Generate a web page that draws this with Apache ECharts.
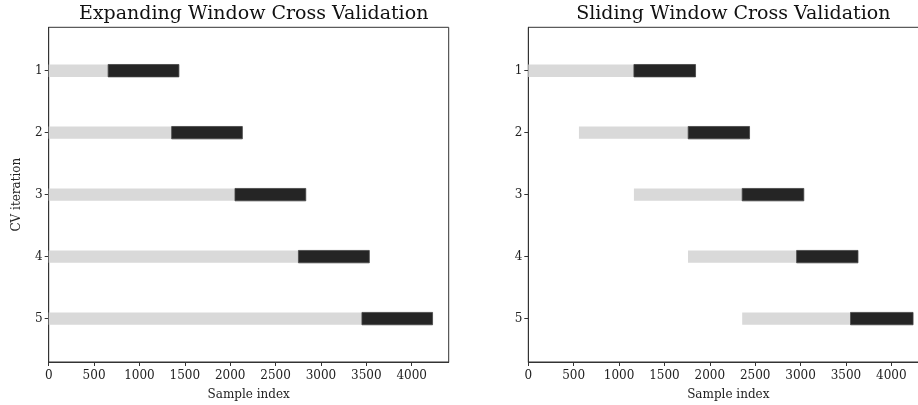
<!DOCTYPE html>
<html>
<head>
<meta charset="utf-8">
<script src="https://cdn.jsdelivr.net/npm/echarts@6/dist/echarts.min.js"></script>
<style>
html,body{margin:0;padding:0;background:#fff;}
#c{width:918px;height:405px;}
</style>
</head>
<body>
<div id="c"></div>
<script>
// ---- data ----
const iterations = [1, 2, 3, 4, 5];
const xTicks = [0, 500, 1000, 1500, 2000, 2500, 3000, 3500, 4000];
// Expanding window
const expTrainStart = [0, 0, 0, 0, 0];
const expTrainEnd = [655, 1355, 2053, 2752, 3452];
const expTestEnd = [1435, 2134, 2833, 3533, 4230];
// Sliding window
const slTrainStart = [0, 558, 1164, 1760, 2357];
const slTrainEnd = [1164, 1762, 2357, 2957, 3551];
const slTestEnd = [1843, 2438, 3036, 3633, 4240];

const FONT = 'DejaVu Serif';
const TRAIN_COLOR = '#d9d9d9';
const TEST_COLOR = '#252525';

function segs(starts, ends) {
  return iterations.map((it, i) => [starts[i], ends[i], it]);
}

function renderBar(params, api) {
  const s = api.coord([api.value(0), api.value(2)]);
  const e = api.coord([api.value(1), api.value(2)]);
  const h = api.size([0, 0.2])[1];
  const rect = echarts.graphic.clipRectByRect(
    { x: s[0], y: s[1] - h / 2, width: e[0] - s[0], height: h },
    { x: params.coordSys.x, y: params.coordSys.y, width: params.coordSys.width, height: params.coordSys.height }
  );
  return rect && { type: 'rect', shape: rect, style: api.style() };
}

function barSeries(idx, data, color, edge) {
  return {
    type: 'custom', xAxisIndex: idx, yAxisIndex: idx,
    renderItem: renderBar, data: data,
    encode: { x: [0, 1], y: 2 },
    itemStyle: { color: color, borderColor: edge, borderWidth: edge ? 0.8 : 0 },
    silent: true, clip: false
  };
}

const tickStyle = { color: '#333', width: 1 };
function xAx(idx) {
  return {
    type: 'value', gridIndex: idx, min: 0, max: 4408,
    name: 'Sample index', nameLocation: 'middle', nameGap: 27,
    nameTextStyle: { fontFamily: FONT, fontSize: 12, color: '#222' },
    axisLine: { show: true, lineStyle: tickStyle },
    axisTick: { show: true, length: 4, lineStyle: tickStyle, customValues: xTicks },
    axisLabel: { fontFamily: FONT, fontSize: 12, color: '#222', margin: 8, customValues: xTicks,
      formatter: v => String(v) },
    splitLine: { show: false }
  };
}
function yAx(idx, withName) {
  return {
    type: 'value', gridIndex: idx, min: 0.3, max: 5.7, inverse: true,
    name: withName ? 'CV iteration' : '', nameLocation: 'middle', nameGap: 26,
    nameRotate: 90,
    nameTextStyle: { fontFamily: FONT, fontSize: 12, color: '#222' },
    axisLine: { show: true, lineStyle: tickStyle },
    axisTick: { show: true, length: 4, lineStyle: tickStyle, customValues: iterations },
    axisLabel: { fontFamily: FONT, fontSize: 12, color: '#222', margin: 6, customValues: iterations,
      formatter: v => String(v) },
    splitLine: { show: false }
  };
}

const chart = echarts.init(document.getElementById('c'), null, { renderer: 'canvas' });
chart.setOption({
  animation: false,
  backgroundColor: '#fff',
  title: [
    { text: 'Expanding Window Cross Validation', left: 248.7, top: 0, textAlign: 'center',
      textStyle: { fontFamily: FONT, fontSize: 19, fontWeight: 'normal', color: '#111' } },
    { text: 'Sliding Window Cross Validation', left: 728.3, top: 0, textAlign: 'center',
      textStyle: { fontFamily: FONT, fontSize: 19, fontWeight: 'normal', color: '#111' } }
  ],
  grid: [
    { left: 48.7, top: 27.3, width: 400, height: 334.7, show: true, borderColor: '#333', borderWidth: 1,
      backgroundColor: 'transparent', containLabel: false, outerBoundsMode: 'none' },
    { left: 528.3, top: 27.3, width: 400, height: 334.7, show: true, borderColor: '#333', borderWidth: 1,
      backgroundColor: 'transparent', containLabel: false, outerBoundsMode: 'none' }
  ],
  xAxis: [xAx(0), xAx(1)],
  yAxis: [yAx(0, true), yAx(1, false)],
  series: [
    barSeries(0, segs(expTrainStart, expTrainEnd), TRAIN_COLOR, null),
    barSeries(0, segs(expTrainEnd, expTestEnd), TEST_COLOR, '#444'),
    barSeries(1, segs(slTrainStart, slTrainEnd), TRAIN_COLOR, null),
    barSeries(1, segs(slTrainEnd, slTestEnd), TEST_COLOR, '#444')
  ]
});
</script>
</body>
</html>
